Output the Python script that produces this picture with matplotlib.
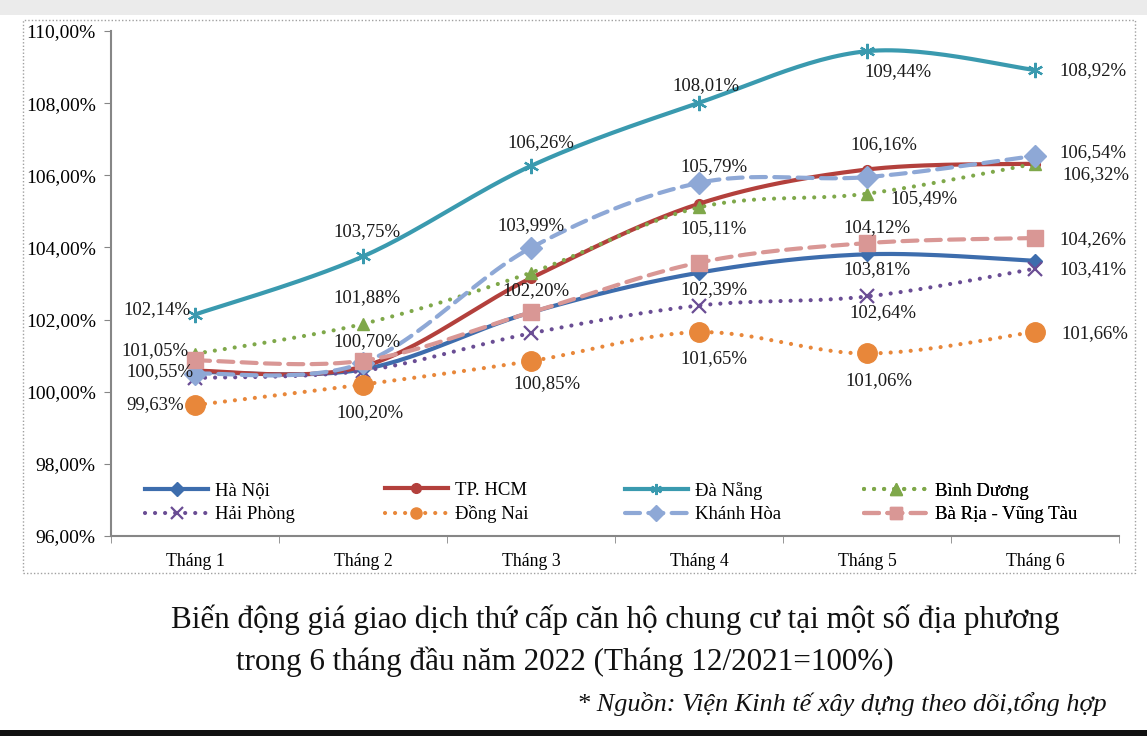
import numpy as np
import matplotlib
matplotlib.use("Agg")
import matplotlib.pyplot as plt
from matplotlib.lines import Line2D
from matplotlib.patches import Rectangle

plt.rcParams['font.family'] = ['Liberation Serif', 'DejaVu Serif']

months = ['Tháng 1', 'Tháng 2', 'Tháng 3', 'Tháng 4', 'Tháng 5', 'Tháng 6']

ha_noi = [100.55, 100.62, 102.20, 103.30, 103.81, 103.63]
tp_hcm = [100.58, 100.70, 103.15, 105.21, 106.16, 106.32]
da_nang = [102.14, 103.75, 106.26, 108.01, 109.44, 108.92]
binh_duong = [101.05, 101.88, 103.30, 105.11, 105.49, 106.32]
hai_phong = [100.38, 100.58, 101.62, 102.39, 102.64, 103.41]
dong_nai = [99.63, 100.20, 100.85, 101.65, 101.06, 101.66]
khanh_hoa = [100.50, 100.80, 103.99, 105.79, 105.95, 106.54]
ba_ria = [100.87, 100.86, 102.20, 103.58, 104.12, 104.26]

names = ['Hà Nội', 'TP. HCM', 'Đà Nẵng', 'Bình Dương',
         'Hải Phòng', 'Đồng Nai', 'Khánh Hòa', 'Bà Rịa - Vũng Tàu']
series = [ha_noi, tp_hcm, da_nang, binh_duong, hai_phong, dong_nai, khanh_hoa, ba_ria]

colors = ['#3D6DAD', '#B3403C', '#3A9AAF', '#7FA84A',
          '#6A4D94', '#E8873A', '#8EA8D6', '#D99795']
dots = (0, (0.01, 2.4))
dashes = (0, (3.6, 2.0))
styles = ['-', '-', '-', dots, dots, dots, dashes, dashes]
markers = ['D', 'o', (6, 2, 0), '^', 'x', 'o', 'D', 's']
msizes = [7, 7, 11, 9, 10, 14, 11, 11]
mew = [1, 1, 1.6, 1, 1.6, 1, 1, 1]

# which points carry a label, and where (offset in pixels from the point)
labels = [
    (0, 0, -35, 0), (0, 4, 10, -15),
    (1, 1, 4, 25), (1, 4, 17, 25),
    (2, 0, -38, 5), (2, 1, 4, 25), (2, 2, 10, 23), (2, 3, 7, 17), (2, 4, 31, -20), (2, 5, 58, -1),
    (3, 0, -40, 3), (3, 1, 4, 26), (3, 3, 15, -21), (3, 4, 57, -5), (3, 5, 61, -11),
    (4, 3, 15, 16), (4, 4, 16, -16), (4, 5, 58, -1),
    (5, 0, -40, 0), (5, 1, 7, -28), (5, 2, 16, -23), (5, 3, 15, -26), (5, 4, 12, -27), (5, 5, 60, -2),
    (6, 2, 0, 22), (6, 3, 15, 16), (6, 5, 58, 3),
    (7, 2, 5, 22), (7, 4, 10, 16), (7, 5, 58, -2),
]


def smooth(x, y, n=30):
    # Excel-like smoothed line: cubic bezier with catmull-rom tangents
    p = np.column_stack([x, y]).astype(float)
    out = []
    for i in range(len(p) - 1):
        p0 = p[max(i - 1, 0)]
        p1 = p[i]
        p2 = p[i + 1]
        p3 = p[min(i + 2, len(p) - 1)]
        c1 = p1 + (p2 - p0) / 6
        c2 = p2 - (p3 - p1) / 6
        t = np.linspace(0, 1, n)[:, None]
        seg = ((1 - t) ** 3) * p1 + 3 * ((1 - t) ** 2) * t * c1 + 3 * (1 - t) * t ** 2 * c2 + t ** 3 * p2
        out.append(seg if i == 0 else seg[1:])
    seg = np.vstack(out)
    return seg[:, 0], seg[:, 1]


fig = plt.figure(figsize=(11.47, 7.36), dpi=100)
ax = fig.add_axes([111 / 1147, 1 - 536 / 736, 1008 / 1147, 505 / 736])

x = np.arange(len(months))
lw = 3.0
for i, vals in enumerate(series):
    sx, sy = smooth(x, vals)
    ax.plot(sx, sy, color=colors[i], lw=lw, linestyle=styles[i],
            dash_capstyle='round', solid_capstyle='round', zorder=2 + i)
    ax.plot(x, vals, linestyle='none', marker=markers[i], ms=msizes[i],
            color=colors[i], mec=colors[i], mew=mew[i], zorder=2 + i)

for si, mi, dx, dy in labels:
    v = series[si][mi]
    txt = f"{v:.2f}".replace('.', ',') + '%'
    ax.annotate(txt, (x[mi], v), xytext=(dx, dy), textcoords='offset pixels',
                ha='center', va='center', fontsize=13.5, color='#1a1a1a', zorder=20)

ax.set_xlim(-0.5, 5.5)
ax.set_ylim(96, 110)
ax.set_yticks(np.arange(96, 110.1, 2))
ax.set_yticklabels([f"{t:.2f}".replace('.', ',') + '%' for t in np.arange(96, 110.1, 2)])
ax.set_xticks(x)
ax.set_xticklabels(months)
ax.set_xticks(np.arange(-0.5, 5.6, 1), minor=True)
ax.tick_params(axis='x', which='major', length=0, labelsize=12.8, pad=12)
ax.tick_params(axis='x', which='minor', length=5, color='#868686', direction='out')
ax.tick_params(axis='y', length=5, color='#868686', labelsize=14, pad=6)
for s in ['top', 'right']:
    ax.spines[s].set_visible(False)
for s in ['left', 'bottom']:
    ax.spines[s].set_color('#868686')
    ax.spines[s].set_linewidth(1.5)

# legend: four columns of two entries
cols = [(0, 4), (1, 5), (2, 6), (3, 7)]
xs = [0.026, 0.264, 0.502, 0.740]
for (a, b), lx in zip(cols, xs):
    hs = []
    for k in (a, b):
        hs.append(Line2D([], [], color=colors[k], lw=lw, linestyle=styles[k],
                         dash_capstyle='round', marker=markers[k],
                         ms=min(msizes[k], 8), mew=mew[k]))
    leg = ax.legend(hs, [names[a], names[b]], loc='lower left', bbox_to_anchor=(lx, 0.01),
                    frameon=False, fontsize=13.5, handlelength=3.4, handletextpad=0.35,
                    labelspacing=0.35, borderaxespad=0)
    ax.add_artist(leg)

# border around the chart area and page edges
fig.patches.append(Rectangle((23 / 1147, 1 - 573 / 736), 1112 / 1147, 553 / 736,
                             transform=fig.transFigure, fill=False, ec='#a0a0a0',
                             lw=1, ls=(0, (1, 1.5))))
fig.patches.append(Rectangle((0, 1 - 15 / 736), 1, 15 / 736, transform=fig.transFigure,
                             fc='#ebebeb', ec='none'))
fig.patches.append(Rectangle((0, 0), 1, 6 / 736, transform=fig.transFigure,
                             fc='#111111', ec='none'))

fig.text(615 / 1147, 1 - 620 / 736, 'Biến động giá giao dịch thứ cấp căn hộ chung cư tại một số địa phương',
         ha='center', va='center', fontsize=22.4, color='#111111')
fig.text(565 / 1147, 1 - 662 / 736, 'trong 6 tháng đầu năm 2022 (Tháng 12/2021=100%)',
         ha='center', va='center', fontsize=22.4, color='#111111')
fig.text(1107 / 1147, 1 - 704 / 736, '* Nguồn: Viện Kinh tế xây dựng theo dõi,tổng hợp',
         ha='right', va='center', fontsize=18.9, style='italic', color='#111111')

fig.savefig('out.png', dpi=100)
